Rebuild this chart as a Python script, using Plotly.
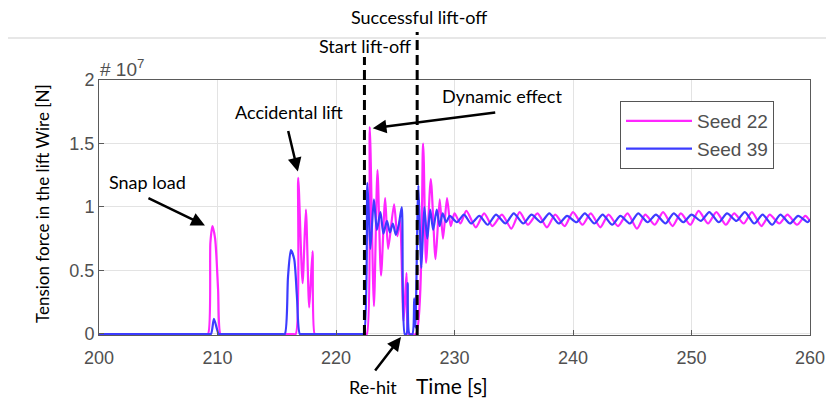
import plotly.graph_objects as go

# ---- data (tension force, units of 1e7 N) ----
t_seed22 = [200.0, 208.9, 209.2, 209.4, 209.57, 209.8, 210.05, 210.25, 210.5,
            216.3, 216.6, 216.81, 217.18, 217.46, 217.74, 218.02, 218.2, 218.4,
            222.4, 222.6, 222.85, 223.2, 223.5, 223.8, 224.15, 224.4, 224.9, 225.18, 225.4, 225.7, 225.95, 226.1,
            226.25, 226.75, 227.35, 227.6, 228.0, 228.4, 228.75, 229.03, 229.37, 229.68,
            230.0, 230.5, 231.0, 231.8, 232.5, 233.2, 234.0, 234.8, 235.5, 236.2, 237.0, 237.8, 238.5,
            239.3, 240.0, 240.8, 241.5, 242.3, 243.0, 243.8, 244.6, 245.4, 246.1, 246.9, 247.6, 248.4,
            249.1, 249.9, 250.6, 251.4, 252.1, 252.9, 253.6, 254.4, 255.1, 255.9, 256.6, 257.4, 258.1,
            258.9, 259.6, 260.0]
f_seed22 = [0.0, 0.0, 0.0, 0.72, 0.85, 0.75, 0.35, 0.0, 0.0,
            0.0, 0.0, 1.23, 0.40, 0.98, 0.21, 0.65, 0.0, 0.0,
            0.0, 0.0, 1.63, 0.22, 1.29, 0.46, 1.07, 0.67, 1.02, 0.77, 0.9, 0.1, 0.48, 0.0,
            0.0, 0.0, 1.5, 0.56, 1.22, 0.59, 1.06, 0.75, 1.07, 0.85,
            0.95, 0.87, 0.97, 0.84, 0.95, 0.85, 0.94, 0.83, 0.96, 0.86, 0.95, 0.84, 0.94,
            0.85, 0.96, 0.86, 0.95, 0.84, 0.94, 0.85, 0.95, 0.83, 0.94, 0.86, 0.96, 0.85,
            0.95, 0.86, 0.97, 0.87, 0.96, 0.86, 0.95, 0.87, 0.96, 0.85, 0.94, 0.87, 0.94,
            0.86, 0.93, 0.89]

t_seed39 = [200.0, 209.2, 209.45, 209.7, 209.95, 210.1, 210.3,
            215.4, 215.68, 215.95, 216.19, 216.47, 216.7, 216.95, 217.2,
            222.15, 222.35, 222.65, 222.9, 223.2, 223.45, 223.75, 224.0, 224.3, 224.55, 224.8, 225.05, 225.3,
            225.55, 225.8, 225.95, 226.05, 226.2, 226.45, 226.6, 226.7, 226.95, 227.2, 227.45, 227.7,
            227.95, 228.2, 228.5, 228.75, 229.0, 229.3,
            229.6, 230.2, 230.8, 231.4, 232.1, 232.8, 233.5, 234.3, 235.0, 235.8, 236.5, 237.3, 238.0,
            238.8, 239.5, 240.3, 241.0, 241.8, 242.5, 243.3, 244.0, 244.8, 245.5, 246.3, 247.0, 247.8,
            248.5, 249.3, 250.0, 250.8, 251.5, 252.3, 253.0, 253.8, 254.5, 255.3, 256.0, 256.8, 257.5,
            258.3, 259.0, 259.8, 260.0]
f_seed39 = [0.0, 0.0, 0.0, 0.12, 0.04, 0.0, 0.0,
            0.0, 0.0, 0.45, 0.66, 0.59, 0.3, 0.0, 0.0,
            0.0, 0.0, 1.19, 0.67, 1.06, 0.82, 0.96, 0.79, 0.89, 0.8, 0.87, 0.78, 0.86,
            1.0, 0.0, 0.0, 0.4, 0.0, 0.0, 0.28, 0.05, 1.17, 0.52, 1.0, 0.75,
            0.98, 0.82, 0.98, 0.85, 0.95, 0.88,
            0.93, 0.88, 0.94, 0.87, 0.93, 0.86, 0.94, 0.87, 0.95, 0.87, 0.94, 0.88, 0.95,
            0.87, 0.93, 0.88, 0.95, 0.87, 0.94, 0.86, 0.93, 0.87, 0.95, 0.88, 0.94, 0.87,
            0.95, 0.88, 0.94, 0.89, 0.96, 0.88, 0.95, 0.89, 0.96, 0.87, 0.94, 0.86, 0.94,
            0.87, 0.93, 0.88, 0.90]

x_ticks = [200, 210, 220, 230, 240, 250, 260]
y_ticks = [0, 0.5, 1, 1.5, 2]
y_tick_text = ["0", "0.5", "1", "1.5", "2"]

t_start_liftoff = 222.4
t_success_liftoff = 226.85

# ---- layout helpers (pixel -> paper) ----
L, R, T, B = 99, 810, 80, 335
W, H = 826, 399


def px(x):
    return (x - L) / (R - L)


def py(y):
    return (B - y) / (B - T)


TXT = dict(family="Lato, Calibri, sans-serif", size=18, color="black")
TICKF = dict(family="Liberation Sans, Arial, sans-serif", size=18, color="#505050")

fig = go.Figure()
fig.add_trace(go.Scatter(x=t_seed22, y=f_seed22, mode="lines", name="Seed 22",
                         line=dict(color="#ff26ff", width=2.2, shape="spline", smoothing=0.7)))
fig.add_trace(go.Scatter(x=t_seed39, y=f_seed39, mode="lines", name="Seed 39",
                         line=dict(color="#3c3cff", width=2.2, shape="spline", smoothing=0.7)))

axis_common = dict(showline=True, mirror=True, linecolor="#5a5a5a", linewidth=1,
                   showgrid=True, gridcolor="#e3e3e3", gridwidth=1,
                   ticks="inside", ticklen=5, tickcolor="#5a5a5a",
                   zeroline=False, tickfont=TICKF, automargin=False)

fig.update_xaxes(range=[200, 260], tickvals=x_ticks, ticklabelstandoff=6, **axis_common)
fig.update_yaxes(range=[-0.008, 2], tickvals=y_ticks, ticktext=y_tick_text, **axis_common)

shapes = [
    dict(type="line", xref="x", yref="paper", x0=t_start_liftoff, x1=t_start_liftoff,
         y0=0, y1=py(57), line=dict(color="black", width=3, dash="10px,5px")),
    dict(type="line", xref="x", yref="paper", x0=t_success_liftoff, x1=t_success_liftoff,
         y0=0, y1=py(32), line=dict(color="black", width=3, dash="10px,5px")),
    dict(type="line", xref="paper", yref="paper", x0=px(8), x1=px(826), y0=py(38), y1=py(38),
         line=dict(color="#cfcfcf", width=1)),
]

annotations = []


def text(s, x, y, **kw):
    annotations.append(dict(text=s, xref="paper", yref="paper", x=px(x), y=py(y),
                            xanchor=kw.get("xanchor", "center"), yanchor="middle",
                            showarrow=False, font=kw.get("font", TXT),
                            textangle=kw.get("textangle", 0)))


def arrow(hx, hy, ax, ay, xref="x", yref="y"):
    annotations.append(dict(text="", x=hx, y=hy, xref=xref, yref=yref, ax=ax, ay=ay,
                            axref="pixel", ayref="pixel", showarrow=True, arrowhead=2,
                            arrowsize=1.1, arrowwidth=2.5, arrowcolor="black", standoff=0,
                            startstandoff=0))


text("Successful lift-off", 419, 17)
text("Start lift-off", 365, 46)
text("Snap load", 147, 182)
text("Accidental lift", 289, 112)
text("Dynamic effect", 502, 96)
text("Re-hit", 373, 387, font=dict(family="Lato, Calibri, sans-serif", size=18, color="black"))
text("Time [s]", 452, 385, font=dict(family="Lato, Calibri, sans-serif", size=21, color="black"))
text("Tension force in the lift Wire [N]", 42, 204, textangle=-90,
     font=dict(family="Lato, Calibri, sans-serif", size=17, color="black"))
text("# 10<sup>7</sup>", 98, 68, xanchor="left",
     font=dict(family="Liberation Sans, Arial, sans-serif", size=19, color="#505050"))

arrow(208.94, 0.855, -58, -28)
arrow(216.78, 1.28, -10, -42)
arrow(223.1, 1.62, 124, -16)
arrow(px(401), py(337), -27, 35, xref="paper", yref="paper")

fig.update_layout(
    width=W, height=H,
    margin=dict(l=L, r=W - R, t=T, b=H - B, autoexpand=False),
    paper_bgcolor="white", plot_bgcolor="white",
    shapes=shapes, annotations=annotations,
    showlegend=True,
    legend=dict(x=px(620), y=py(101), xanchor="left", yanchor="top",
                bgcolor="white", bordercolor="#555555", borderwidth=1,
                font=dict(family="Liberation Sans, Arial, sans-serif", size=19, color="#505050"),
                itemwidth=66, tracegroupgap=0),
)

fig.write_html("out.html")
